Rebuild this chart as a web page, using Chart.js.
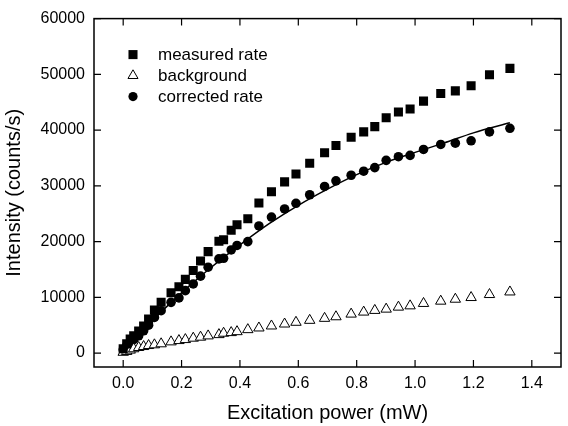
<!DOCTYPE html>
<html><head><meta charset="utf-8">
<script src="https://cdn.jsdelivr.net/npm/chart.js@4/dist/chart.umd.min.js"></script>
<style>html,body{margin:0;padding:0;background:#fff}#wrap{width:568px;height:426px}</style>
</head><body><div id="wrap"><canvas id="c" width="568" height="426"></canvas></div>
<script>
const powerMW = [0.000, 0.012, 0.024, 0.036, 0.053, 0.070, 0.087, 0.107, 0.130, 0.164, 0.191, 0.213, 0.240, 0.265, 0.291, 0.328, 0.344, 0.370, 0.390, 0.427, 0.465, 0.508, 0.553, 0.592, 0.639, 0.690, 0.729, 0.781, 0.824, 0.862, 0.901, 0.943, 0.983, 1.029, 1.088, 1.138, 1.192, 1.255, 1.325];
const measuredRate = [770, 1650, 2540, 3080, 3970, 4860, 6100, 7700, 9130, 10820, 11890, 13220, 14820, 16510, 18200, 20070, 20340, 22030, 23010, 24080, 26920, 28930, 30710, 32140, 34040, 35940, 37240, 38720, 39680, 40620, 42220, 43240, 43770, 45200, 46550, 47030, 47970, 49930, 51070];
const backgroundRate = [140, 290, 530, 770, 1000, 1170, 1350, 1480, 1660, 2010, 2240, 2420, 2670, 2850, 3080, 3310, 3560, 3670, 3840, 4200, 4500, 4860, 5210, 5520, 5870, 6230, 6510, 6990, 7350, 7650, 7880, 8240, 8470, 8900, 9310, 9660, 9960, 10500, 10960];
const correctedRate = [600, 1350, 2000, 2400, 3100, 4000, 5000, 6400, 7600, 9100, 9900, 11200, 12400, 13800, 15400, 16900, 17000, 18500, 19300, 20000, 22800, 24400, 25850, 26870, 28400, 29890, 30890, 31900, 32620, 33270, 34570, 35230, 35460, 36530, 37420, 37650, 38080, 39680, 40320];
const fitPower = [0, 0.1, 0.2, 0.3, 0.4, 0.5, 0.6, 0.7, 0.8, 0.9, 1.0, 1.1, 1.2, 1.325];
const fitRate = [0, 5800, 10800, 15300, 19400, 23200, 26500, 29400, 32000, 34200, 36000, 37700, 39500, 41300];
const xTickValues = [0, 0.2, 0.4, 0.6, 0.8, 1.0, 1.2, 1.4];
const yTickValues = [0, 10000, 20000, 30000, 40000, 50000, 60000];
const seriesNames = ['measured rate', 'background', 'corrected rate'];

const pts = (xs, ys) => xs.map((x, i) => ({x: x, y: ys[i]}));
const FONT = '"Liberation Sans", Arial, sans-serif';

function drawMarker(ctx, style, x, y, r, fill, stroke, bw) {
  ctx.beginPath();
  if (style === 'rect') {
    const s = Math.SQRT1_2 * r;
    ctx.rect(x - s, y - s, 2 * s, 2 * s);
  } else if (style === 'triangle') {
    for (let k = 0; k < 3; k++) {
      const a = k * 2 * Math.PI / 3;
      const px = x + Math.sin(a) * r, py = y - Math.cos(a) * r;
      if (k === 0) ctx.moveTo(px, py); else ctx.lineTo(px, py);
    }
    ctx.closePath();
  } else {
    ctx.arc(x, y, r, 0, Math.PI * 2);
  }
  ctx.fillStyle = fill; ctx.fill();
  if (bw > 0) { ctx.lineWidth = bw; ctx.strokeStyle = stroke; ctx.stroke(); }
}

const frameTicks = {
  id: 'frameTicks',
  afterDatasetsDraw(chart) {
    const {ctx, chartArea: a, scales: {x, y}} = chart;
    ctx.save();
    ctx.strokeStyle = '#000';
    ctx.lineWidth = 1.5;
    ctx.strokeRect(a.left, a.top, a.right - a.left, a.bottom - a.top);
    ctx.lineWidth = 1.2;
    const L = 7;
    ctx.beginPath();
    x.ticks.forEach(t => {
      const px = x.getPixelForValue(t.value);
      ctx.moveTo(px, a.bottom); ctx.lineTo(px, a.bottom - L);
      ctx.moveTo(px, a.top); ctx.lineTo(px, a.top + L);
    });
    y.ticks.forEach(t => {
      const py = y.getPixelForValue(t.value);
      ctx.moveTo(a.left, py); ctx.lineTo(a.left + L, py);
      ctx.moveTo(a.right, py); ctx.lineTo(a.right - L, py);
    });
    ctx.stroke();
    ctx.restore();
  }
};

const insideLegend = {
  id: 'insideLegend',
  afterDraw(chart) {
    const {ctx, chartArea: a} = chart;
    ctx.save();
    ctx.font = '17px ' + FONT;
    ctx.textBaseline = 'middle';
    ctx.textAlign = 'left';
    for (let i = 0; i < seriesNames.length; i++) {
      const ds = chart.data.datasets[i];
      const cy = a.top + 36 + i * 21;
      const cx = a.left + 39;
      const r = ds.pointStyle === 'rect' ? 6.4 : (ds.pointStyle === 'triangle' ? 5.8 : 4.6);
      drawMarker(ctx, ds.pointStyle, cx, cy, r, ds.backgroundColor, ds.borderColor, ds.borderWidth);
      ctx.fillStyle = '#000';
      ctx.fillText(ds.label, a.left + 64, cy + 1);
    }
    ctx.restore();
  }
};

new Chart(document.getElementById('c'), {
  type: 'scatter',
  data: {
    datasets: [
      {label: seriesNames[0], data: pts(powerMW, measuredRate), pointStyle: 'rect', pointRadius: 6.4, pointHoverRadius: 6.4,
       backgroundColor: '#000', borderColor: '#000', borderWidth: 0, order: 1},
      {label: seriesNames[1], data: pts(powerMW, backgroundRate), pointStyle: 'triangle', pointRadius: 6, pointHoverRadius: 6,
       backgroundColor: '#fff', borderColor: '#000', borderWidth: 1, order: 2},
      {label: seriesNames[2], data: pts(powerMW, correctedRate), pointStyle: 'circle', pointRadius: 4.8, pointHoverRadius: 4.8,
       backgroundColor: '#000', borderColor: '#000', borderWidth: 0, order: 3},
      {label: 'fit', data: pts(fitPower, fitRate), showLine: true, pointRadius: 0, pointHoverRadius: 0,
       borderColor: '#000', backgroundColor: '#000', borderWidth: 1.5, cubicInterpolationMode: 'monotone', fill: false, order: 0}
    ]
  },
  options: {
    responsive: false,
    animation: false,
    devicePixelRatio: 1,
    events: [],
    layout: {padding: {top: 16, right: 1, left: 0, bottom: 0}},
    plugins: {legend: {display: false}, tooltip: {enabled: false}},
    scales: {
      x: {
        type: 'linear', min: -0.1, max: 1.5,
        grid: {display: false, drawTicks: false},
        border: {display: false},
        afterBuildTicks: s => { s.ticks = xTickValues.map(v => ({value: v})); },
        afterFit: s => { s.height = 59; },
        ticks: {color: '#000', font: {family: FONT, size: 16}, padding: 7, maxRotation: 0, autoSkip: false,
                callback: v => Number(v).toFixed(1)},
        title: {display: true, text: 'Excitation power (mW)', color: '#000', font: {family: FONT, size: 20}, padding: {top: 0, bottom: 1}}
      },
      y: {
        type: 'linear', min: -2500, max: 60000,
        grid: {display: false, drawTicks: false},
        border: {display: false},
        afterBuildTicks: s => { s.ticks = yTickValues.map(v => ({value: v})); },
        afterFit: s => { s.width = 94; },
        ticks: {color: '#000', font: {family: FONT, size: 16}, padding: 9, autoSkip: false,
                callback: v => String(v)},
        title: {display: true, text: 'Intensity (counts/s)', color: '#000', font: {family: FONT, size: 20}, padding: {top: 2, bottom: 0}}
      }
    }
  },
  plugins: [frameTicks, insideLegend]
});
</script>
</body></html>
